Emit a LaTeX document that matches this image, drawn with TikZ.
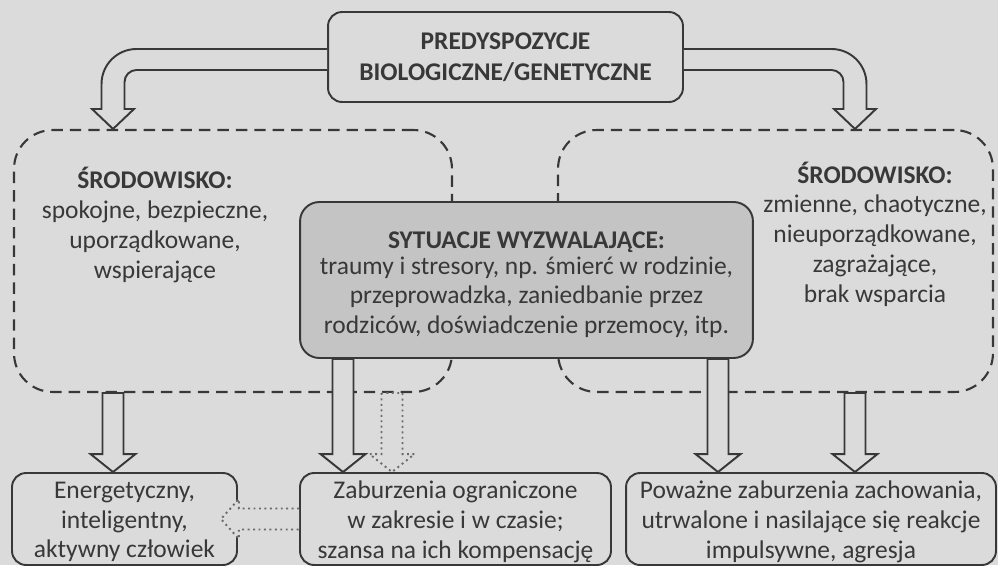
\documentclass[tikz,border=0pt]{standalone}
\usepackage{fontspec}
\setmainfont{Carlito}
\usetikzlibrary{calc}

\definecolor{paper}{gray}{0.86}
\definecolor{ink}{gray}{0.22}
\definecolor{boxgrey}{gray}{0.77}

\newcommand\diagfont{\fontsize{14.5}{16.9}\selectfont}

% hollow block arrow pointing down: from the y of #2 to the tip #3
\newcommand\blockdown[3][]{%
  \draw[bigarrow,#1] let \p1=(#2), \p2=(#3) in
    (\x2-0.21cm,\y1) -- (\x2-0.21cm,\y2+0.36cm) -- (\x2-0.45cm,\y2+0.36cm)
    -- (\x2,\y2) -- (\x2+0.45cm,\y2+0.36cm) -- (\x2+0.21cm,\y2+0.36cm)
    -- (\x2+0.21cm,\y1) -- cycle;}

\begin{document}
\begin{tikzpicture}[
      x=0.02cm,
      y=-0.02cm,
      predbox/.style={
        draw=ink,
        fill=paper,
        rounded corners=8pt,
        line width=1.1pt,
        text=ink,
        font=\fontsize{14.5}{17.5}\selectfont\bfseries,
        align=center
      },
      envbox/.style={
        draw=ink,
        dash pattern=on 6.5pt off 4pt,
        rounded corners=22pt,
        line width=1.2pt
      },
      boxtext/.style={text=ink, font=\diagfont, align=center},
      trigger/.style={
        draw=ink,
        fill=boxgrey,
        rounded corners=11pt,
        line width=1.1pt
      },
      outcome/.style={
        draw=ink,
        fill=paper,
        rounded corners=8pt,
        line width=1.1pt,
        minimum height=1.84cm
      },
      bigarrow/.style={draw=ink, fill=paper, line width=1.1pt},
      faintarrow/.style={bigarrow, draw=ink!75, dotted, line width=1.1pt}
    ]
    \fill[paper] (0,0) rectangle (998,565);

    \node[predbox, minimum width=7.1cm, minimum height=1.8cm] (pred) at (505.5,57)
      {PREDYSPOZYCJE\\BIOLOGICZNE/GENETYCZNE};

    \node[envbox, minimum width=8.76cm, minimum height=5.24cm] (envL) at (233,261) {};
    \node[envbox, minimum width=8.7cm, minimum height=5.24cm] (envR) at (775.5,261) {};

    \node[boxtext] (envLtxt) at (155,225) {
      \textbf{ŚRODOWISKO:}\\spokojne, bezpieczne,\\uporządkowane,\\wspierające
    };
    \node[boxtext] (envRtxt) at (875,234) {
      \textbf{ŚRODOWISKO:}\\zmienne, chaotyczne,\\nieuporządkowane,\\zagrażające,\\brak wsparcia
    };

    \node[trigger, minimum width=9.06cm, minimum height=3.12cm] (sit) at (526.5,280) {};
    \node[boxtext] (sitTxt) at ([yshift=-0.09cm]sit.center) {
      \textbf{SYTUACJE WYZWALAJĄCE:}\\[-2pt]
      traumy i stresory, np. śmierć w rodzinie,\\
      przeprowadzka, zaniedbanie przez\\
      rodziców, doświadczenie przemocy, itp.
    };

    \node[outcome, minimum width=4.5cm] (outL) at (124.5,519) {};
    \node[outcome, minimum width=6.22cm] (outM) at (455.5,519) {};
    \node[outcome, minimum width=7.4cm] (outR) at (811,519) {};
    \node[boxtext] (outLtxt) at ([yshift=-0.06cm]outL.center)
      {Energetyczny,\\inteligentny,\\aktywny człowiek};
    \node[boxtext] (outMtxt) at ([yshift=-0.06cm]outM.center)
      {Zaburzenia ograniczone\\w zakresie i w czasie;\\szansa na ich kompensację};
    \node[boxtext] (outRtxt) at ([yshift=-0.06cm]outR.center)
      {Poważne zaburzenia zachowania,\\utrwalone i nasilające się reakcje\\impulsywne, agresja};

    % bent arrows from the predispositions
    \draw[bigarrow] let \p1=(pred.west), \p2=([xshift=-2.4cm]envL.north) in
      (\x1,\y1+0.16cm) -- (\x2+0.47cm,\y1+0.16cm)
      arc[start angle=90, end angle=180, radius=0.7cm]
      -- (\x2-0.23cm,\y2+0.4cm) -- (\x2-0.42cm,\y2+0.4cm)
      -- (\x2,\y2) -- (\x2+0.42cm,\y2+0.4cm) -- (\x2+0.23cm,\y2+0.4cm)
      -- (\x2+0.23cm,\y1-0.5cm)
      arc[start angle=180, end angle=90, radius=0.24cm]
      -- (\x1,\y1-0.26cm);
    \draw[bigarrow] let \p1=(pred.east), \p2=([xshift=1.59cm]envR.north) in
      (\x1,\y1+0.16cm) -- (\x2-0.47cm,\y1+0.16cm)
      arc[start angle=90, end angle=0, radius=0.7cm]
      -- (\x2+0.23cm,\y2+0.4cm) -- (\x2+0.42cm,\y2+0.4cm)
      -- (\x2,\y2) -- (\x2-0.42cm,\y2+0.4cm) -- (\x2-0.23cm,\y2+0.4cm)
      -- (\x2-0.23cm,\y1-0.5cm)
      arc[start angle=0, end angle=90, radius=0.24cm]
      -- (\x1,\y1-0.26cm);

    \blockdown{envL.south}{[xshift=-0.23cm]outL.north}
    \blockdown{sit.south}{[xshift=-2.25cm]outM.north}
    \blockdown[faintarrow]{envL.south}{[xshift=-1.27cm]outM.north}
    \blockdown{sit.south}{[xshift=-1.86cm]outR.north}
    \blockdown{envR.south}{[xshift=0.88cm]outR.north}

    % compensation back towards the healthy outcome
    \draw[faintarrow] let \p1=(outM.west), \p2=([xshift=-0.34cm]outL.east) in
      (\x1,\y1+0.21cm) -- (\x2+0.36cm,\y1+0.21cm) -- (\x2+0.36cm,\y1+0.4cm)
      -- (\x2,\y1) -- (\x2+0.36cm,\y1-0.4cm) -- (\x2+0.36cm,\y1-0.21cm)
      -- (\x1,\y1-0.21cm);
  \end{tikzpicture}
\end{document}
